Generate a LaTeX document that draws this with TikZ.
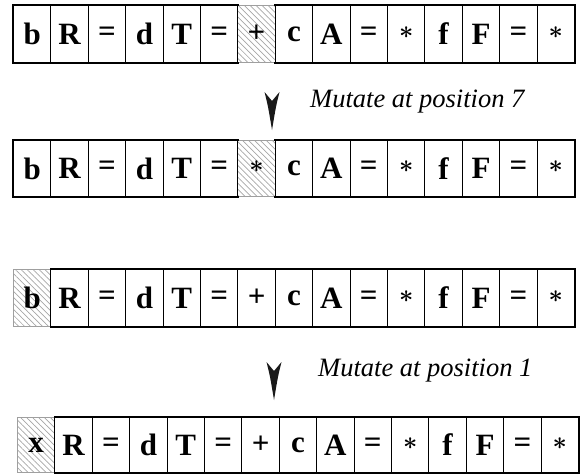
\documentclass[tikz,border=0pt]{standalone}
\usepackage{fontspec}
\setmainfont{Liberation Serif}
\usetikzlibrary{patterns.meta}
\newcommand\astk{{\mdseries\fontsize{44}{44}\selectfont\boldmath\raisebox{3pt}{$\ast$}}}
\tikzset{
  cellbox/.style={draw=black, line width=1pt, minimum width=37.4pt, minimum height=57pt,
    inner sep=0pt, anchor=north west, font=\bfseries\fontsize{31}{31}\selectfont},
  hatchbox/.style={cellbox, draw=gray!75,
    pattern={Lines[angle=-45,distance=4.2pt,line width=0.7pt]}, pattern color=gray!70},
  outer/.style={line width=1.7pt, line cap=rect},
  mutlabel/.style={font=\itshape\fontsize{26.5}{26.5}\selectfont, anchor=west, inner sep=0pt},
  arrowfill/.style={fill=black!90}
}
% #1 name, #2 x, #3 y, #4 hatched index, #5 height, #6 list
\newcommand\cellrow[6]{%
  \foreach \t [count=\i] in {#6} {%
    \ifnum\i=#4\relax
      \node[hatchbox, minimum height=#5pt] (#1c\i) at ({#2+(\i-1)*37.4}, #3) {\t};
    \fi
  }
  \foreach \t [count=\i] in {#6} {%
    \ifnum\i=#4\relax\else
      \node[cellbox, minimum height=#5pt] (#1c\i) at ({#2+(\i-1)*37.4}, #3) {\t};
      \draw[outer] (#1c\i.north west) -- (#1c\i.north east);
      \draw[outer] (#1c\i.south west) -- (#1c\i.south east);
      \ifnum\i=1\relax \draw[outer] (#1c\i.north west) -- (#1c\i.south west);\fi
      \ifnum\i=15\relax \draw[outer] (#1c\i.north east) -- (#1c\i.south east);\fi
    \fi
  }
}
\newcommand\downhead[3]{% x, top, tip
  \fill[arrowfill] ({#1-7.5},#2) .. controls ({#1-4},{#2+14}) .. (#1,#3)
     .. controls ({#1+4},{#2+14}) .. ({#1+7.5},#2) -- (#1,{#2+9}) -- cycle;
}
\begin{document}
\begin{tikzpicture}[x=1pt,y=-1pt]
\useasboundingbox (0,0) rectangle (580,474);
\cellrow{ra}{13}{5}{7}{57}{b,R,=,d,T,=,+,c,A,=,\astk,f,F,=,\astk}
\cellrow{rb}{13}{140}{7}{56}{b,R,=,d,T,=,\astk,c,A,=,\astk,f,F,=,\astk}
\cellrow{rc}{13}{269}{1}{57}{b,R,=,d,T,=,+,c,A,=,\astk,f,F,=,\astk}
\cellrow{rd}{17}{417}{1}{55}{x,R,=,d,T,=,+,c,A,=,\astk,f,F,=,\astk}
\downhead{272}{92}{130}
\node[mutlabel] (lab1) at (310,102) {Mutate at position 7};
\downhead{274}{362}{400}
\node[mutlabel] (lab2) at (318,371) {Mutate at position 1};
\end{tikzpicture}
\end{document}
